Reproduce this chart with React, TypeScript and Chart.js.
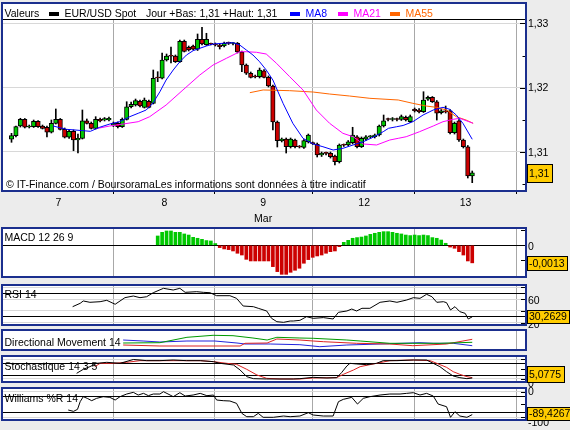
import React, { useEffect, useRef } from 'react';
import { Chart, registerables } from 'chart.js';

Chart.register(...registerables);

// ================= DATA =================
// Hourly EUR/USD candles (index 0..104)
const candleOpen = [
  1.31195, 1.31251, 1.31402, 1.31506, 1.31386, 1.31391, 1.31475, 1.31402, 1.31382, 1.31304,
  1.31444, 1.31506, 1.31350, 1.31226, 1.31319, 1.31184, 1.31210, 1.31484, 1.31444, 1.31366,
  1.31506, 1.31495, 1.31495, 1.31413, 1.31444, 1.31391, 1.31506, 1.31702, 1.31729, 1.31787,
  1.31693, 1.31787, 1.31755, 1.32160, 1.32145, 1.32430, 1.32492, 1.32492, 1.32403, 1.32721,
  1.32628, 1.32648, 1.32597, 1.32752, 1.32668, 1.32679, 1.32679, 1.32664, 1.32648, 1.32690,
  1.32687, 1.32690, 1.32555, 1.32352, 1.32223, 1.32170, 1.32170, 1.32263, 1.32160, 1.32025,
  1.31464, 1.31173, 1.31199, 1.31079, 1.31184, 1.31079, 1.31070, 1.31157, 1.31132, 1.31122,
  1.30950, 1.30977, 1.30977, 1.30935, 1.30846, 1.31106, 1.31106, 1.31142, 1.31235, 1.31079,
  1.31195, 1.31235, 1.31235, 1.31262, 1.31402, 1.31506, 1.31503, 1.31506, 1.31506, 1.31537,
  1.31469, 1.31662, 1.31651, 1.31625, 1.31818, 1.31849, 1.31780, 1.31609, 1.31640, 1.31640,
  1.31298, 1.31484, 1.31184, 1.31079, 1.30623,
];
const candleHigh = [
  1.31288, 1.31402, 1.31522, 1.31519, 1.31417, 1.31495, 1.31488, 1.31417, 1.31402, 1.31495,
  1.31667, 1.31519, 1.31371, 1.31340, 1.31340, 1.31277, 1.31651, 1.31511, 1.31464, 1.31547,
  1.31527, 1.31534, 1.31542, 1.31464, 1.31464, 1.31527, 1.31780, 1.31776, 1.31822, 1.31807,
  1.31838, 1.31807, 1.32274, 1.32248, 1.32539, 1.32523, 1.32632, 1.32508, 1.32741, 1.32741,
  1.32648, 1.32664, 1.32835, 1.32939, 1.32846, 1.32695, 1.32695, 1.32679, 1.32710, 1.32710,
  1.32703, 1.32703, 1.32570, 1.32368, 1.32243, 1.32196, 1.32305, 1.32282, 1.32181, 1.32040,
  1.31480, 1.31215, 1.31215, 1.31215, 1.31199, 1.31098, 1.31192, 1.31277, 1.31153, 1.31137,
  1.30997, 1.30997, 1.30997, 1.30950, 1.31122, 1.31122, 1.31176, 1.31382, 1.31254, 1.31231,
  1.31254, 1.31254, 1.31277, 1.31417, 1.31573, 1.31527, 1.31534, 1.31527, 1.31573, 1.31558,
  1.31573, 1.31682, 1.31674, 1.31936, 1.31869, 1.31861, 1.31799, 1.31659, 1.31713, 1.31659,
  1.31464, 1.31503, 1.31199, 1.31098, 1.30701,
];
const candleLow = [
  1.31148, 1.31231, 1.31386, 1.31371, 1.31371, 1.31379, 1.31379, 1.31355, 1.31231, 1.31293,
  1.31433, 1.31340, 1.31215, 1.31207, 1.31017, 1.30981, 1.31199, 1.31433, 1.31355, 1.31355,
  1.31464, 1.31480, 1.31480, 1.31394, 1.31371, 1.31379, 1.31495, 1.31682, 1.31713, 1.31698,
  1.31682, 1.31682, 1.31745, 1.32092, 1.32134, 1.32414, 1.32383, 1.32391, 1.32391, 1.32555,
  1.32570, 1.32586, 1.32578, 1.32664, 1.32656, 1.32664, 1.32648, 1.32601, 1.32632, 1.32671,
  1.32664, 1.32539, 1.32248, 1.32204, 1.32150, 1.32150, 1.32150, 1.32150, 1.32009, 1.31340,
  1.31075, 1.31153, 1.30981, 1.31059, 1.31059, 1.31059, 1.31051, 1.31137, 1.31114, 1.30919,
  1.30927, 1.30950, 1.30903, 1.30794, 1.30826, 1.31083, 1.31090, 1.31122, 1.31059, 1.31067,
  1.31176, 1.31215, 1.31215, 1.31246, 1.31386, 1.31480, 1.31480, 1.31480, 1.31488, 1.31480,
  1.31456, 1.31620, 1.31604, 1.31612, 1.31799, 1.31768, 1.31495, 1.31589, 1.31604, 1.31277,
  1.31277, 1.31160, 1.31059, 1.30592, 1.30519,
];
const candleClose = [
  1.31251, 1.31391, 1.31506, 1.31382, 1.31391, 1.31475, 1.31391, 1.31366, 1.31304, 1.31444,
  1.31506, 1.31350, 1.31226, 1.31319, 1.31184, 1.31210, 1.31484, 1.31444, 1.31366, 1.31506,
  1.31480, 1.31516, 1.31522, 1.31444, 1.31391, 1.31506, 1.31702, 1.31740, 1.31796, 1.31713,
  1.31807, 1.31693, 1.32145, 1.32150, 1.32430, 1.32492, 1.32488, 1.32403, 1.32721, 1.32565,
  1.32586, 1.32597, 1.32752, 1.32679, 1.32752, 1.32675, 1.32664, 1.32637, 1.32690, 1.32688,
  1.32690, 1.32555, 1.32352, 1.32223, 1.32160, 1.32165, 1.32274, 1.32160, 1.32025, 1.31464,
  1.31173, 1.31199, 1.31079, 1.31199, 1.31079, 1.31075, 1.31173, 1.31262, 1.31128, 1.30950,
  1.30977, 1.30975, 1.30924, 1.30846, 1.31106, 1.31102, 1.31157, 1.31262, 1.31079, 1.31210,
  1.31235, 1.31238, 1.31262, 1.31402, 1.31484, 1.31503, 1.31506, 1.31503, 1.31547, 1.31495,
  1.31547, 1.31640, 1.31625, 1.31807, 1.31849, 1.31780, 1.31600, 1.31640, 1.31620, 1.31298,
  1.31444, 1.31184, 1.31079, 1.30623, 1.30674,
];

// day boundaries / centres in candle-index units
const dayBounds = [22.95, 45.9, 67.9, 90.9, 114];
const dayCenters = [10.6, 34.5, 56.8, 79.6, 102.5];
const dayLabels = [['7'], ['8'], ['9', 'Mar'], ['12'], ['13']];

const priceTicks = [1.31, 1.32, 1.33];
const priceMinorTicks = [1.305, 1.315, 1.325];

// moving averages [candle index, price]
const ma8 = [
  [9.4, 1.31402], [12.4, 1.3135], [14.3, 1.3134], [16.1, 1.31329], [17.8, 1.31319], [19.9, 1.31382],
  [22.2, 1.31433], [24.4, 1.31469], [26.7, 1.31547], [28.6, 1.316], [30.4, 1.31651], [31.9, 1.31755],
  [33.5, 1.31936], [34.9, 1.32118], [36.5, 1.32274], [38.0, 1.32403], [39.5, 1.32508], [41.0, 1.32575],
  [42.5, 1.32612], [44.0, 1.32648], [45.5, 1.32679], [47.7, 1.3269], [50.0, 1.32699], [51.5, 1.32664],
  [53.0, 1.32586], [54.5, 1.32508], [56.0, 1.32403], [57.5, 1.32274], [59.0, 1.32118], [61.3, 1.31755],
  [63.5, 1.31444], [65.8, 1.3121], [68.1, 1.31122], [70.3, 1.31079], [72.6, 1.31028], [74.8, 1.31054],
  [77.1, 1.31106], [79.4, 1.31157], [81.6, 1.31226], [83.9, 1.31313], [85.1, 1.31366], [86.9, 1.3139],
  [88.4, 1.3141], [90.6, 1.31469], [92.9, 1.31573], [95.2, 1.31651], [97.4, 1.31693], [98.9, 1.31662],
  [100.4, 1.31573], [101.9, 1.31444], [104.0, 1.31195],
];
const ma21 = [
  [19.5, 1.31366], [22.2, 1.31402], [25.2, 1.31433], [28.6, 1.31469], [31.2, 1.31547], [34.9, 1.31729],
  [38.7, 1.31963], [42.5, 1.32196], [45.5, 1.32352], [48.5, 1.32456], [51.5, 1.32559], [53.0, 1.32559],
  [55.3, 1.3255], [57.5, 1.32523], [59.8, 1.32379], [62.8, 1.3217], [65.8, 1.31963], [68.8, 1.31651],
  [71.8, 1.31444], [74.8, 1.31288], [77.1, 1.31235], [79.4, 1.31122], [82.4, 1.31106], [85.4, 1.31184],
  [87.3, 1.3121], [89.1, 1.31235], [92.1, 1.31313], [95.2, 1.31402], [97.4, 1.31469], [99.7, 1.31506],
  [101.2, 1.31522], [104.2, 1.31444],
];
const ma55 = [
  [53.8, 1.31921], [56.8, 1.31963], [62.8, 1.31952], [68.1, 1.31931], [71.8, 1.319], [76.3, 1.31869],
  [80.9, 1.31833], [87.3, 1.31807], [90.6, 1.31755], [93.6, 1.31713], [95.9, 1.31693], [98.2, 1.31651],
  [100.4, 1.31547], [102.6, 1.31495], [104.2, 1.31444],
];

// MACD(12,26,9) histogram, starting at candle index 33
const macdStart = 33;
const macdHist = [
  0.00069, 0.00096, 0.00106, 0.00106, 0.00096, 0.00096, 0.00084, 0.00076, 0.00059, 0.00052,
  0.00044, 0.00035, 0.00032, 0.00013,
  -0.00017, -0.00027, -0.00032, -0.00042, -0.00059, -0.00072, -0.00104, -0.00116, -0.00116, -0.00116,
  -0.00116, -0.00116, -0.00158, -0.00195, -0.00215, -0.00215, -0.002, -0.00185, -0.0017,
  -0.00133, -0.00106, -0.00089, -0.00079, -0.00072, -0.00059, -0.00047, -0.00042, -0.0001,
  0.00022, 0.00037, 0.00052, 0.00057, 0.00061, 0.00069, 0.00081, 0.00089, 0.00096, 0.00101,
  0.00101, 0.00096, 0.00089, 0.00084, 0.00076, 0.00072, 0.00076, 0.00072, 0.00076, 0.00072,
  0.00057, 0.00052, 0.00039, 0.00015,
  -0.00013, -0.00022, -0.00047, -0.00072, -0.00116, -0.0013,
];
const lastMacd = -0.0013;

const rsi14 = [
  [13.8, 47.2], [15.5, 52.8], [16.2, 56.7], [17.7, 54.5], [20, 55.5], [21.5, 57.8], [23.4, 51.2],
  [25.6, 62.2], [27.5, 65], [29, 62.2], [30.5, 63.8], [32, 70.5], [34.3, 77.8], [36.5, 75], [38, 77.8],
  [39.2, 71.1], [41.8, 72.2], [43.3, 71.1], [44.8, 70.5], [46.3, 65.5], [49.3, 65.5], [50.8, 61.1],
  [52.3, 48.3], [54.6, 47.2], [55.7, 44.5], [57.6, 40], [58.7, 27.8], [59.9, 22.2], [61.4, 21.1],
  [62.9, 23.3], [63.6, 23.3], [65.1, 24.4], [66.6, 30.5], [68.1, 27.8], [70.4, 29], [72.6, 26.7],
  [73.8, 37.8], [75.7, 40], [76.8, 43.3], [77.9, 40], [79.1, 44.5], [80.9, 44.5], [83.2, 54.5],
  [85.4, 56.7], [87, 54.5], [89.2, 58.3], [90.7, 62.2], [92.2, 61.1], [93.7, 67.8], [94.9, 63.8],
  [96, 54.5], [97.5, 55.5], [98.2, 53.9], [99.1, 41.7], [100.1, 47.2], [101.2, 38.9], [102.4, 36.1],
  [103.1, 26.7], [104, 30.2629],
];
const lastRsi = 30.2629;

const dmAdx = [
  [25.2, 20], [29.7, 18], [33.5, 16], [39.6, 18], [45.9, 18], [50.9, 14], [52.7, 12], [58.4, 12],
  [65.1, 10.6], [69.6, 6.6], [75.7, 10], [83.2, 12], [92.2, 14.6], [95.2, 13.4], [99.7, 13.4], [104, 8.6],
];
const dmPlus = [
  [25.2, 14], [33.5, 14.6], [39.6, 25.4], [45.5, 29.4], [50, 28.6], [54.5, 24], [57.7, 20], [59.9, 25.4],
  [65.1, 24], [68.1, 23.4], [75.7, 20], [78.7, 18], [85.4, 13.4], [90.6, 13.4], [96.7, 13.4], [104, 15.4],
];
const dmMinus = [
  [25.2, 10], [33.5, 8], [45.5, 8], [51.6, 8], [52.7, 13.4], [57.7, 14], [59.9, 22], [65.1, 20],
  [68.1, 18], [70.4, 16.6], [77.9, 13.4], [85.4, 12], [90.6, 8.6], [98.2, 12], [101.9, 18], [104, 21.4],
];

const stochK = [
  [14.7, 29.1], [16.2, 49.6], [17.7, 63.2], [19.2, 80.3], [21.5, 85.5], [24.5, 80.3], [27.5, 100],
  [29, 97.4], [30.5, 94], [33.5, 94], [36.5, 97.4], [39.5, 94], [42.6, 94], [45.6, 88.9], [47.1, 80.3],
  [50.1, 71.8], [51.6, 46.2], [53.1, 12], [54.6, 1.7], [57.6, 0], [60.6, 0], [63.6, 0], [65.1, 1.7],
  [68.1, 8.5], [71.2, 5.1], [73.4, 6.8], [74.5, 32.5], [75.7, 66.7], [76.4, 80.3], [77.9, 77],
  [80.2, 73.5], [82.4, 80.3], [83.9, 94], [87, 94], [90.7, 97.4], [93.7, 97.4], [95.2, 80.3],
  [96.7, 63.2], [98.2, 37.6], [99.7, 15.4], [101.2, 6.8], [102.8, 1.7], [104, 5.0775],
];
const stochD = [
  [18.8, 63.2], [20, 80.3], [23, 80.3], [26, 85.5], [29, 94], [35, 94], [42.6, 94], [45.6, 88.9],
  [48.6, 80.3], [50.8, 75.2], [53.1, 49.6], [55.4, 20.5], [57.6, 3.4], [60.6, 0], [65.1, 0], [68.1, 5.1],
  [73.4, 6.8], [74.9, 23.9], [77.2, 46.2], [78.7, 63.2], [80.9, 73.5], [83.2, 83.8], [85.4, 94],
  [90.7, 97.4], [94.5, 94], [96, 80.3], [98.2, 59.8], [99.7, 37.6], [101.2, 23.9], [102.8, 12], [104, 6.8],
];
const lastStoch = 5.0775;

const williamsR = [
  [12.8, -71.5], [14, -76.8], [14.9, -68.9], [15.5, -39], [16.2, -19.5], [17.1, -26], [18.1, -35.1],
  [19.2, -26], [20.7, -19.5], [22.2, -22.1], [23.4, -32.5], [24.5, -19.5], [26, -9.1], [27.5, -2.6],
  [28.6, -13], [29.8, -6.5], [30.9, -15.6], [32, -9.1], [33.5, -9.1], [34.3, 0], [35.8, -13],
  [36.5, -19.5], [38, -3.9], [39.2, -16.9], [41, -13], [42.6, -6.5], [44.1, -15.6], [45.6, -13],
  [46.3, -32.5], [47.8, -35.1], [49.3, -36.4], [50.8, -45.6], [52, -84.6], [53.1, -97.6], [54.6, -97.6],
  [55.7, -84.6], [56.8, -100], [59.1, -100], [61.4, -95], [62.9, -97.6], [65.1, -95], [67, -82],
  [68.1, -91.1], [70.4, -95], [72.6, -95], [73.8, -39], [74.9, -29.9], [76.8, -22.1], [78.1, -48.2],
  [79.4, -26], [80.9, -19.5], [83.2, -13], [85.4, -9.1], [87.7, -9.1], [89.2, -6.5], [90.7, -3.9],
  [92.2, -13], [93.7, -6.5], [95.2, -16.9], [96.3, -48.2], [98.2, -58.6], [99.1, -100], [100.1, -78.1],
  [101.2, -95], [102.8, -100], [104, -89.4267],
];
const lastWilliams = -89.4267;

// ================= STYLE / LAYOUT =================
const W = 570;
const H = 430;
const FONT_FAMILY = "'Liberation Sans', Arial, Helvetica, sans-serif";
const FONT = { family: FONT_FAMILY, size: 10.5 };
const FONT_CSS = `10.5px ${FONT_FAMILY}`;
const NAVY = '#1b2f8e';
const GRID_V = '#a8a8a8';
const GRID_H = '#d8d8d8';
const NONE = 'rgba(0,0,0,0)';
const GREEN = '#00c800';
const RED = '#cc0000';
const C_MA8 = '#0000ff';
const C_MA21 = '#ff00ff';
const C_MA55 = '#ff6600';
const X_MIN = -1.92;
const X_MAX = 115.91;
const AXIS_W = 45;

const PANELS = {
  main: { top: 20, bottom: 190 },
  macd: { top: 229, bottom: 276 },
  rsi: { top: 286, bottom: 324 },
  dm: { top: 331, bottom: 349 },
  sto: { top: 357, bottom: 381 },
  wil: { top: 389, bottom: 419 },
};

const comma = (v: number, d: number) => v.toFixed(d).replace('.', ',');
const toXY = (pts: number[][]) => pts.map(([x, y]) => ({ x, y }));

function xAxis(withLabels: boolean, height: number) {
  const vals = (withLabels ? [...dayBounds, ...dayCenters] : [...dayBounds]).sort((a, b) => a - b);
  const isBound = (c: any) => c && c.tick && dayBounds.includes(c.tick.value);
  return {
    type: 'linear',
    min: X_MIN,
    max: X_MAX,
    offset: false,
    afterBuildTicks: (s: any) => {
      s.ticks = vals.map((v) => ({ value: v }));
    },
    afterFit: (s: any) => {
      s.height = height;
    },
    border: { display: false },
    grid: {
      offset: false,
      drawTicks: withLabels,
      tickLength: 4,
      lineWidth: 1,
      color: (c: any) => (isBound(c) ? GRID_V : NONE),
      tickColor: (c: any) => (isBound(c) ? '#000' : NONE),
    },
    ticks: {
      display: withLabels,
      autoSkip: false,
      maxRotation: 0,
      minRotation: 0,
      padding: 1.4,
      color: '#000',
      font: { ...FONT, lineHeight: 1.5 },
      callback: (v: number) => {
        const k = dayCenters.indexOf(v);
        return k >= 0 ? dayLabels[k] : '';
      },
    },
  };
}

// tickVals: grid/tick positions; labelTicks: [value, text] pairs for label positions
function yAxis(
  min: number,
  max: number,
  tickVals: number[],
  labelTicks: [number, string][],
  gridColor: (v: number) => string,
  labelOffset: number
) {
  const labelVals = labelTicks.map((l) => l[0]);
  const all = Array.from(new Set([...tickVals, ...labelVals])).sort((a, b) => a - b);
  return {
    type: 'linear',
    position: 'right',
    min,
    max,
    afterBuildTicks: (s: any) => {
      s.ticks = all.map((v) => ({ value: v }));
    },
    afterFit: (s: any) => {
      s.width = AXIS_W;
    },
    border: { display: false },
    grid: {
      drawTicks: false,
      lineWidth: 1,
      color: (c: any) => (c && c.tick && tickVals.includes(c.tick.value) ? gridColor(c.tick.value) : NONE),
    },
    ticks: {
      autoSkip: false,
      padding: 3,
      labelOffset,
      color: '#000',
      font: FONT,
      callback: (v: number) => {
        const k = labelVals.indexOf(v);
        return k >= 0 ? labelTicks[k][1] : '';
      },
    },
  };
}

interface Deco {
  header?: boolean;
  title?: string;
  titleY?: number;
  footnote?: string;
  footnoteY?: number;
  innerTicks?: { v: number; len: number }[];
  box?: { value: number; text: string; h: number };
}

function panelPlugin(cfg: Deco) {
  return {
    id: 'panelDeco',
    beforeDraw(chart: any) {
      const { ctx, chartArea: a } = chart;
      const top = cfg.header ? 4 : a.top;
      ctx.save();
      ctx.fillStyle = '#ffffff';
      ctx.fillRect(a.left, top, a.right - a.left, a.bottom - top);
      ctx.restore();
    },
    afterDatasetsDraw(chart: any) {
      const { ctx, chartArea: a, scales } = chart;
      const ys = scales.y;
      ctx.save();
      ctx.strokeStyle = '#000';
      ctx.lineWidth = 1;
      (cfg.innerTicks || []).forEach((t) => {
        const py = Math.round(ys.getPixelForValue(t.v)) + 0.5;
        ctx.beginPath();
        ctx.moveTo(a.right - t.len, py);
        ctx.lineTo(a.right, py);
        ctx.stroke();
      });
      ctx.font = FONT_CSS;
      ctx.fillStyle = '#000';
      ctx.textAlign = 'left';
      ctx.textBaseline = 'alphabetic';
      if (cfg.title) ctx.fillText(cfg.title, 4.5, cfg.titleY as number);
      if (cfg.footnote) ctx.fillText(cfg.footnote, 6, cfg.footnoteY as number);
      ctx.restore();
    },
    afterDraw(chart: any) {
      const { ctx, chartArea: a, scales } = chart;
      const ys = scales.y;
      const w = a.right - a.left;
      ctx.save();
      const top = cfg.header ? 4 : a.top;
      if (cfg.header) {
        ctx.fillStyle = '#000';
        ctx.fillRect(a.left, a.top - 1, w, 1);
        ctx.font = FONT_CSS;
        ctx.textAlign = 'left';
        ctx.textBaseline = 'alphabetic';
        const by = 17;
        ctx.fillStyle = '#000';
        ctx.fillText('Valeurs', 4.5, by);
        ctx.fillRect(49, 12, 10, 4);
        ctx.fillText('EUR/USD Spot', 64.5, by);
        ctx.fillText('Jour +Bas: 1,31 +Haut: 1,31', 146, by);
        const items: [string, string, number][] = [
          ['MA8', C_MA8, 290],
          ['MA21', C_MA21, 338],
          ['MA55', C_MA55, 390],
        ];
        items.forEach(([t, c, x]) => {
          ctx.fillStyle = c;
          ctx.fillRect(x, 12, 10, 4);
          ctx.fillText(t, x + 15.5, by);
        });
      }
      // frame
      ctx.strokeStyle = NAVY;
      ctx.lineWidth = 2;
      ctx.strokeRect(a.left - 1, top - 1, w + 2, a.bottom - top + 2);
      // value box
      if (cfg.box) {
        const { value, text, h } = cfg.box;
        ctx.font = FONT_CSS;
        const bw = Math.round(ctx.measureText(text).width + 4.5);
        let cy = ys.getPixelForValue(value);
        cy = Math.max(a.top + h / 2, Math.min(a.bottom - h / 2 + 1, cy));
        const bx = a.right + 2.5;
        const byy = Math.round(cy - h / 2) + 0.5;
        ctx.fillStyle = '#ffcc00';
        ctx.fillRect(bx, byy, bw, h);
        ctx.strokeStyle = '#000';
        ctx.lineWidth = 1;
        ctx.strokeRect(bx, byy, bw, h);
        ctx.fillStyle = '#000';
        ctx.textAlign = 'left';
        ctx.textBaseline = 'middle';
        ctx.fillText(text, bx + 1.5, byy + h / 2 + 0.5);
      }
      ctx.restore();
    },
  };
}

function baseOptions(p: { top: number; bottom: number }, xHeight: number, scales: any) {
  return {
    animation: false,
    responsive: false,
    devicePixelRatio: 1,
    events: [],
    layout: { padding: { left: 3, right: 0, top: p.top, bottom: H - p.bottom - xHeight } },
    plugins: { legend: { display: false }, tooltip: { enabled: false } },
    scales,
  };
}

const lineDs = (label: string, pts: number[][], color: string) => ({
  type: 'line',
  label,
  data: toXY(pts),
  borderColor: color,
  borderWidth: 1,
  pointRadius: 0,
  tension: 0,
  fill: false,
  order: 0,
});

function mainConfig(): any {
  const p = PANELS.main;
  const last = candleClose[candleClose.length - 1];
  return {
    type: 'bar',
    data: {
      datasets: [
        lineDs('MA8', ma8, C_MA8),
        lineDs('MA21', ma21, C_MA21),
        lineDs('MA55', ma55, C_MA55),
        {
          type: 'bar',
          label: 'EUR/USD Spot',
          data: candleOpen.map((o, i) => ({ x: i, y: [o, candleClose[i]] })),
          backgroundColor: candleOpen.map((o, i) => (candleClose[i] >= o ? GREEN : RED)),
          borderColor: '#000',
          borderWidth: 1,
          borderSkipped: false,
          barThickness: 4.4,
          minBarLength: 1,
          grouped: false,
          order: 1,
        },
        {
          type: 'bar',
          label: 'wicks',
          data: candleLow.map((l, i) => ({ x: i, y: [l, candleHigh[i]] })),
          backgroundColor: '#000',
          borderWidth: 0,
          barThickness: 1,
          grouped: false,
          order: 2,
        },
      ],
    },
    options: baseOptions(p, 35, {
      x: xAxis(true, 35),
      y: yAxis(
        1.30405,
        1.33053,
        priceTicks,
        priceTicks.map((v) => [v, comma(v, 2)] as [number, string]),
        () => GRID_H,
        1
      ),
    }),
    plugins: [
      panelPlugin({
        header: true,
        footnote: '© IT-Finance.com / BoursoramaLes informations sont données à titre indicatif',
        footnoteY: 188,
        innerTicks: [
          ...priceTicks.map((v) => ({ v, len: 5 })),
          ...priceMinorTicks.map((v) => ({ v, len: 2.5 })),
        ],
        box: { value: last, text: comma(last, 2), h: 18 },
      }),
    ],
  };
}

function macdConfig(): any {
  const p = PANELS.macd;
  return {
    type: 'bar',
    data: {
      datasets: [
        {
          type: 'bar',
          label: 'MACD 12 26 9',
          data: macdHist.map((v, i) => ({ x: macdStart + i, y: v })),
          backgroundColor: macdHist.map((v) => (v >= 0 ? GREEN : RED)),
          borderWidth: 0,
          barThickness: 3,
          grouped: false,
        },
      ],
    },
    options: baseOptions(p, 0, {
      x: xAxis(false, 0),
      y: yAxis(-0.002274, 0.001207, [-0.0011, 0, 0.0011], [[0, '0']], (v) => (v === 0 ? '#000' : NONE), 2),
    }),
    plugins: [
      panelPlugin({
        title: 'MACD 12 26 9',
        titleY: 241,
        innerTicks: [-0.0011, 0, 0.0011].map((v) => ({ v, len: 4 })),
        box: { value: lastMacd, text: comma(lastMacd, 4), h: 14 },
      }),
    ],
  };
}

function rsiConfig(): any {
  const p = PANELS.rsi;
  return {
    type: 'line',
    data: { datasets: [lineDs('RSI 14', rsi14, '#000')] },
    options: baseOptions(p, 0, {
      x: xAxis(false, 0),
      y: yAxis(
        18.33,
        81.67,
        [20, 30, 40, 60, 70, 80],
        [[60, '60'], [20, '20']],
        (v) => (v === 30 || v === 70 ? '#000' : GRID_H),
        2
      ),
    }),
    plugins: [
      panelPlugin({
        title: 'RSI 14',
        titleY: 297.5,
        innerTicks: [20, 40, 60, 80].map((v) => ({ v, len: 4 })),
        box: { value: lastRsi, text: comma(lastRsi, 4), h: 13 },
      }),
    ],
  };
}

function dmConfig(): any {
  const p = PANELS.dm;
  return {
    type: 'line',
    data: {
      datasets: [
        lineDs('+DI', dmPlus, '#009900'),
        lineDs('-DI', dmMinus, '#dd2222'),
        lineDs('ADX', dmAdx, '#2222dd'),
      ],
    },
    options: baseOptions(p, 0, {
      x: xAxis(false, 0),
      y: yAxis(2, 38, [20], [], () => NONE, 0),
    }),
    plugins: [panelPlugin({ title: 'Directional Movement 14', titleY: 346 })],
  };
}

function stoConfig(): any {
  const p = PANELS.sto;
  return {
    type: 'line',
    data: {
      datasets: [lineDs('%K', stochK, '#000'), lineDs('%D', stochD, '#dd2222')],
    },
    options: baseOptions(p, 0, {
      x: xAxis(false, 0),
      y: yAxis(
        -10.3,
        112.8,
        [0, 20, 80, 100],
        [[-27, '0']],
        (v) => (v === 20 || v === 80 ? '#000' : GRID_H),
        0
      ),
    }),
    plugins: [
      panelPlugin({
        title: 'Stochastique 14 3 5',
        titleY: 369.5,
        innerTicks: [0, 50, 100].map((v) => ({ v, len: 4 })),
        box: { value: lastStoch, text: comma(lastStoch, 4), h: 16 },
      }),
    ],
  };
}

function wilConfig(): any {
  const p = PANELS.wil;
  return {
    type: 'line',
    data: { datasets: [lineDs('Williams %R 14', williamsR, '#000')] },
    options: baseOptions(p, 0, {
      x: xAxis(false, 0),
      y: yAxis(
        -106.6,
        10.5,
        [-100, -80, -20, 0],
        [[0, '0'], [-122, '-100']],
        (v) => (v === -20 || v === -80 ? '#000' : GRID_H),
        0.5
      ),
    }),
    plugins: [
      panelPlugin({
        title: 'Williams %R 14',
        titleY: 402,
        innerTicks: [0, -50, -100].map((v) => ({ v, len: 4 })),
        box: { value: lastWilliams, text: comma(lastWilliams, 4), h: 13 },
      }),
    ],
  };
}

export default function App() {
  const r0 = useRef<HTMLCanvasElement>(null);
  const r1 = useRef<HTMLCanvasElement>(null);
  const r2 = useRef<HTMLCanvasElement>(null);
  const r3 = useRef<HTMLCanvasElement>(null);
  const r4 = useRef<HTMLCanvasElement>(null);
  const r5 = useRef<HTMLCanvasElement>(null);
  const refs = [r0, r1, r2, r3, r4, r5];

  useEffect(() => {
    const builders = [mainConfig, macdConfig, rsiConfig, dmConfig, stoConfig, wilConfig];
    const charts = builders.map((b, i) => new Chart(refs[i].current as HTMLCanvasElement, b()));
    return () => charts.forEach((c) => c.destroy());
  }, []);

  return (
    <div
      style={{
        position: 'absolute',
        left: 0,
        top: 0,
        width: W,
        height: H,
        background: '#ececec',
        overflow: 'hidden',
      }}
    >
      {refs.map((r, i) => (
        <canvas
          key={i}
          ref={r}
          width={W}
          height={H}
          style={{ position: 'absolute', left: 0, top: 0, width: W, height: H }}
        />
      ))}
    </div>
  );
}
